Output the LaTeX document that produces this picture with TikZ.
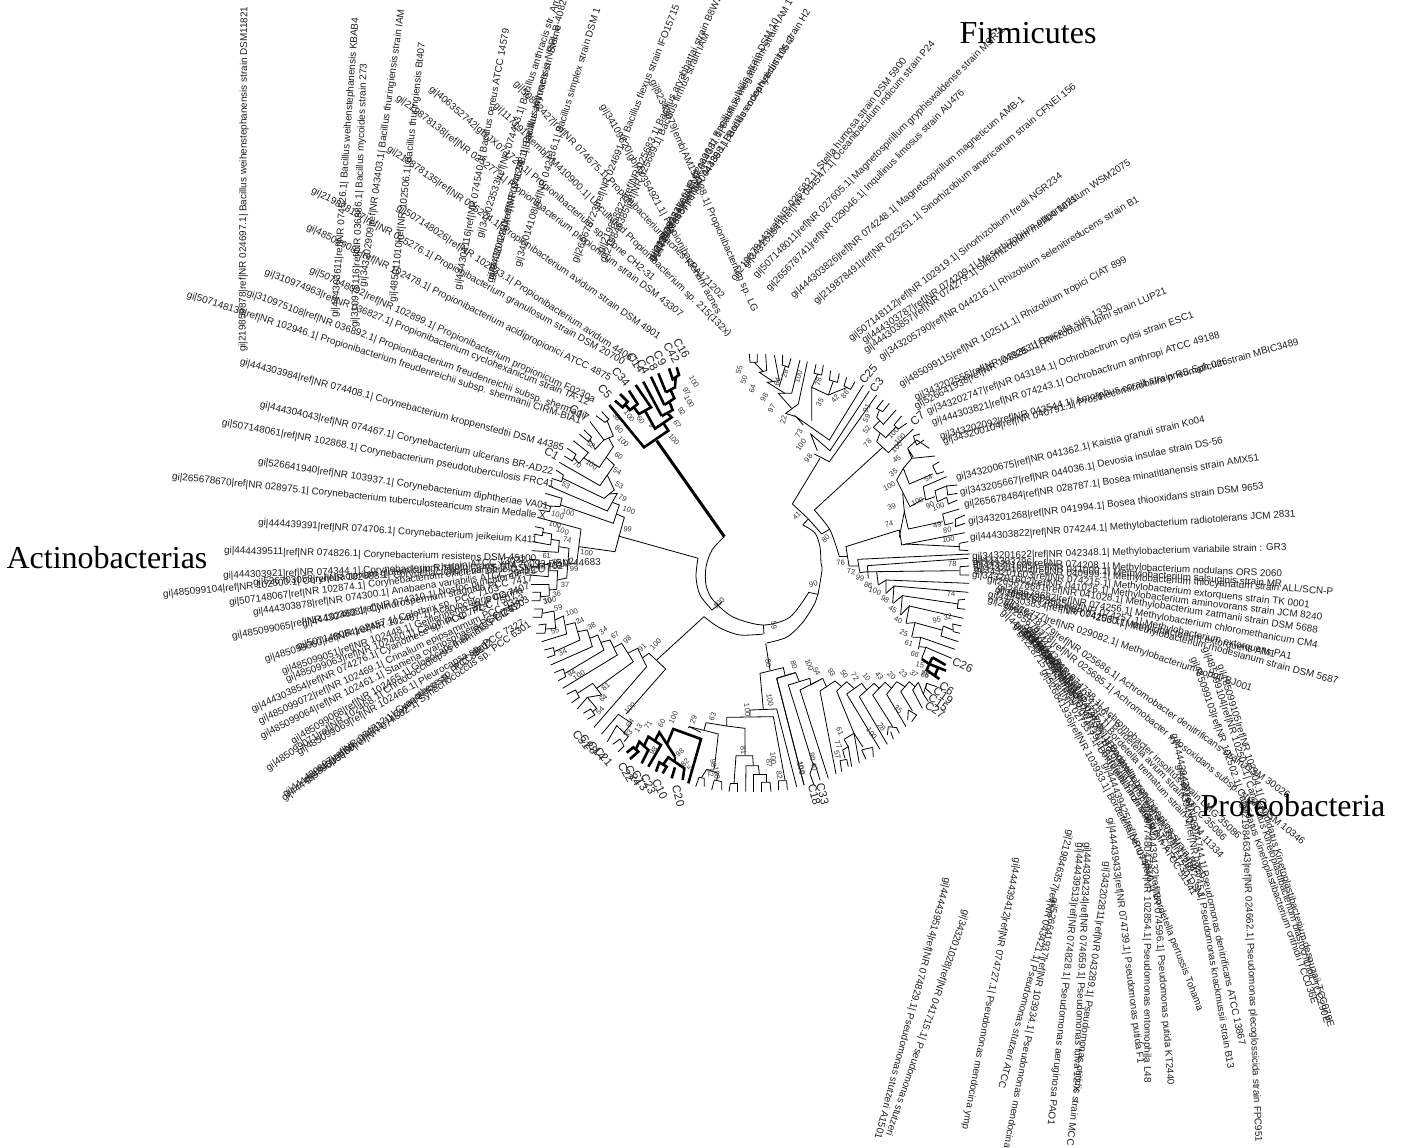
\documentclass[tikz,border=0pt]{standalone}
\usepackage{fontspec}
\setmainfont{Liberation Sans}
\newfontfamily\bigserif{Liberation Serif}
\newcounter{lb}
\newcommand{\lab}[4]{\stepcounter{lb}\node[leaf,rotate=#3] (lab\thelb) at (#1,#2) {#4};}
\newcommand{\bs}[4]{\stepcounter{lb}\node[bst,rotate=#3] (bs\thelb) at (#1,#2) {#4};}
\newcommand{\cl}[4]{\stepcounter{lb}\node[clade,rotate=#3] (cl\thelb) at (#1,#2) {#4};}
\tikzset{
 leaf/.style={anchor=west,inner sep=0pt,font=\fontsize{9.9}{9.9}\selectfont,text=black!88},
 bst/.style={inner sep=0pt,font=\fontsize{7.5}{7.5}\selectfont,text=black!80},
 clade/.style={inner sep=0pt,font=\fontsize{11.5}{11.5}\selectfont,text=black!85},
 group/.style={anchor=center,inner sep=0pt,font=\bigserif\fontsize{32}{32}\selectfont},
 br/.style={line width=0.8pt,line join=miter,black},
 thk/.style={line width=2.6pt,line join=miter,line cap=butt,black},
 zone/.style={xshift=480pt,yshift=-330pt,x=0.33333pt,y=-0.33333pt},
 ztwo/.style={xshift=500pt,yshift=-560pt,x=0.33333pt,y=-0.33333pt},
 zthree/.style={xshift=720pt,yshift=-330pt,x=0.33333pt,y=-0.33333pt},
 zfour/.style={xshift=780pt,yshift=-550pt,x=0.33333pt,y=-0.33333pt}
}
\begin{document}
\begin{tikzpicture}[x=1pt,y=-1pt]
\useasboundingbox (0,0) rectangle (1401,1148);
\fill[white] (0,0) rectangle (1401,1148);
% central rings
\draw[br] plot[smooth] coordinates {(724.3,536.7) (712,550) (706,567) (706,585) (713,600) (733,617) (763.3,625) (790,617) (809,592)};
\draw[br] plot[smooth] coordinates {(698,558) (696,577) (700,595) (712,610)};
\draw[br] (712,610) -- (722,602);
\draw[br] plot[smooth] coordinates {(704,616.7) (720,628) (740,635) (763.3,634)};
\draw[br] plot[smooth] coordinates {(766.7,643) (787,637) (803,622) (815,603) (818,594) (822,570) (821,563) (820,547) (815,533) (803,525)};
% ---- zone 1
\begin{scope}[zone]
\draw[thk,line width=3pt] (733,620) -- (530,332);
\draw[thk] (388,225) -- (492,352) -- (565,302) -- (550,279);
\draw[thk] (495,242) -- (525,296) -- (575,262) -- (561,249);
\draw[thk] (545,258) -- (578,240) -- (568,215);
\draw[thk] (545,258) -- (490,155);
\draw[thk] (553,225) -- (583,205) -- (572,180);
\draw[thk] (553,225) -- (513,140);
\draw[thk] (558,187) -- (585,172) -- (587,142);
\draw[thk] (558,187) -- (535,130);
\draw[thk] (567,115) -- (578,148) -- (597,135) -- (590,112);
\draw[thk] (405,212) -- (428,232) -- (443,215) -- (420,192);
\draw[thk] (436,224) -- (450,240) -- (473,222) -- (447,182);
\draw[thk] (461,231) -- (477,252) -- (513,232) -- (467,165);
\draw[br] (348,257) -- (375,277) -- (387,268) -- (365,245);
\draw[br] (330,275) -- (372,330) -- (400,318) -- (381,272);
\draw[br] (386,324) -- (400,350) -- (358,412) -- (311,384);
\draw[br] (298,312) -- (325,335) -- (335,322) -- (312,300);
\draw[br] (330,328) -- (345,358) -- (372,330);
\draw[br] (280,332) -- (325,368) -- (297,400) -- (282,383);
\draw[br] (262,355) -- (288,373) -- (277,393) -- (253,378);
\draw[br] (379,382) -- (403,405) -- (360,467) -- (238,397);
\draw[br] (382,436) -- (403,480) -- (372,505) -- (248,445);
\draw[br] (228,420) -- (250,435) -- (245,455) -- (215,445);
\draw[br] (388,492) -- (412,490) -- (382,543) -- (205,467);
\draw[br] (397,517) -- (418,525) -- (400,580) -- (243,525);
\draw[br] (196,490) -- (246,505) -- (240,530) -- (210,528);
\draw[br] (187,520) -- (212,530) -- (208,545) -- (175,540);
\draw[br] (409,552) -- (433,562) -- (405,665) -- (297,650);
\draw[br] (415,618) -- (655,685);
\draw[br] (172,562) -- (303,597) -- (290,700) -- (265,700);
\draw[br] (165,590) -- (190,595) -- (187,617) -- (160,612);
\draw[br] (188,607) -- (215,612) -- (212,645) -- (158,635);
\draw[br] (213,628) -- (238,632) -- (235,667) -- (155,662);
\draw[br] (237,650) -- (267,655) -- (260,745);
\draw[br] (150,688) -- (178,690) -- (175,712) -- (150,708);
\draw[br] (177,700) -- (205,704) -- (205,740) -- (148,735);
\draw[br] (205,722) -- (233,722) -- (230,778);
\bs{642}{155}{-60}{100}\bs{620}{185}{-60}{97}\bs{628}{215}{-60}{100}\bs{605}{245}{-60}{92}\bs{592}{283}{-55}{67}\bs{582}{328}{-50}{100}
\bs{448}{258}{-50}{100}\bs{482}{270}{-50}{60}\bs{515}{285}{-50}{9}\bs{410}{262}{-50}{36}\bs{417}{298}{-40}{80}\bs{430}{335}{-45}{100}\bs{416}{378}{-40}{60}
\bs{333}{345}{-40}{52}\bs{292}{403}{-35}{70}\bs{335}{405}{-35}{100}\bs{412}{425}{-30}{54}\bs{418}{465}{-30}{53}\bs{258}{465}{-30}{53}\bs{428}{503}{-25}{79}\bs{447}{540}{-20}{100}\bs{443}{598}{-10}{99}
\bs{265}{548}{-15}{100}\bs{233}{555}{-15}{100}\bs{225}{583}{-15}{100}\bs{248}{603}{-15}{100}\bs{262}{630}{-10}{74}\bs{320}{668}{-5}{100}\bs{200}{678}{0}{61}\bs{228}{697}{0}{75}\bs{282}{718}{0}{99}\bs{255}{765}{0}{37}
\cl{605}{55}{-60}{C16}\cl{575}{68}{-60}{C42}\cl{540}{85}{-60}{C9}\cl{515}{100}{-60}{C8}\cl{490}{110}{-60}{C4}\cl{468}{98}{-55}{C14}\cl{423}{140}{-50}{C34}\cl{375}{185}{-50}{C5}\cl{298}{250}{-35}{C17}\cl{215}{372}{-30}{C1}
\end{scope}
% ---- zone 2
\begin{scope}[ztwo]
\draw[br] (172,60) -- (200,54);
\draw[br] (147,72) -- (92,72);
\draw[br] (147,72) -- (148,108);
\draw[br] (147,90) -- (170,88);
\draw[br] (97,97) -- (122,97) -- (120,122) -- (95,122);
\draw[br] (121,110) -- (148,108);
\draw[br] (102,147) -- (128,147) -- (125,172) -- (98,172);
\draw[br] (127,160) -- (162,153) -- (167,205) -- (137,207);
\draw[br] (115,195) -- (138,192) -- (135,220) -- (108,220);
\draw[br] (165,180) -- (190,168) -- (200,222) -- (125,245);
\draw[br] (197,195) -- (225,188) -- (240,240);
\draw[br] (133,270) -- (160,263) -- (165,285) -- (142,293);
\draw[br] (163,275) -- (240,240);
\draw[br] (232,215) -- (262,210) -- (277,260) -- (152,315);
\draw[br] (270,235) -- (293,225) -- (312,270) -- (195,340);
\draw[br] (163,338) -- (190,327) -- (197,350) -- (175,362);
\draw[br] (303,247) -- (330,240) -- (352,285) -- (188,385);
\draw[br] (343,262) -- (365,250) -- (400,305) -- (290,385);
\draw[br] (200,403) -- (227,390) -- (238,412) -- (215,428);
\draw[br] (232,400) -- (278,370) -- (305,405) -- (262,412) -- (232,447);
\draw[br] (262,412) -- (290,445) -- (278,455);
\draw[br] (250,460) -- (272,447) -- (285,465) -- (262,478);
\draw[br] (383,280) -- (413,265) -- (440,320) -- (282,502);
\draw[br] (428,293) -- (447,280) -- (497,327) -- (378,462);
\draw[br] (470,300) -- (612,170);
\draw[br] (305,522) -- (355,463) -- (395,490) -- (370,520);
\draw[br] (322,545) -- (350,497) -- (385,530) -- (372,545);
\draw[br] (338,553) -- (360,537) -- (372,558) -- (355,575);
\draw[thk] (380,578) -- (400,562) -- (415,575) -- (390,597);
\draw[thk] (408,567) -- (418,545) -- (445,570) -- (425,610);
\draw[thk] (432,558) -- (445,530) -- (483,555) -- (445,620);
\draw[thk] (465,542) -- (478,517) -- (525,590);
\draw[thk] (502,550) -- (520,507) -- (603,537) -- (565,670);
\draw[thk] (468,635) -- (478,607) -- (500,620) -- (488,640);
\draw[thk] (490,613) -- (505,592) -- (553,625) -- (548,660);
\draw[thk] (525,622) -- (515,655);
\draw[thk] (525,605) -- (525,590);
\draw[br] (565,503) -- (568,500) -- (603,517);
\draw[br] (568,500) -- (655,522) -- (643,625);
\draw[br] (618,488) -- (612,510);
\draw[br] (618,488) -- (680,498);
\draw[br] (680,472) -- (680,498) -- (735,505) -- (735,585);
\draw[br] (680,472) -- (820,470) -- (855,660);
\draw[br] (750,470) -- (750,450) -- (830,447) -- (890,680);
\draw[br] (790,448) -- (780,340) -- (850,323) -- (855,345);
\draw[br] (810,330) -- (797,250);
\draw[br] (830,355) -- (885,338);
\draw[br] (830,355) -- (912,675);
\draw[br] (925,97) -- (955,103);
\draw[br] (790,195) -- (792,222);
% bottom small clusters
\draw[br] (597,652) -- (613,655) -- (613,680);
\draw[br] (597,652) -- (587,680);
\draw[br] (605,652) -- (620,628) -- (655,640);
\draw[br] (643,660) -- (665,665) -- (665,690);
\draw[br] (643,660) -- (635,690);
\draw[br] (655,640) -- (650,660);
\draw[br] (691,670) -- (713,670) -- (713,695);
\draw[br] (691,670) -- (687,695);
\draw[br] (702,670) -- (708,587) -- (758,587) -- (760,617);
\draw[br] (738,617) -- (775,617) -- (778,642);
\draw[br] (738,617) -- (737,695);
\draw[br] (760,642) -- (798,642) -- (798,667);
\draw[br] (760,642) -- (760,695);
\draw[br] (785,667) -- (810,667) -- (813,695);
\draw[br] (785,667) -- (785,695);
\draw[br] (835,662) -- (860,662) -- (862,690);
\draw[br] (835,662) -- (835,690);
\bs{170}{102}{10}{36}\bs{150}{122}{15}{100}\bs{142}{122}{15}{30}\bs{175}{145}{15}{59}\bs{215}{157}{20}{100}\bs{165}{212}{20}{55}\bs{240}{182}{25}{24}\bs{275}{200}{30}{38}\bs{188}{277}{25}{34}\bs{310}{212}{35}{34}\bs{345}{225}{35}{67}\bs{382}{240}{40}{98}\bs{215}{340}{30}{94}\bs{237}{347}{30}{100}\bs{427}{262}{45}{91}\bs{467}{252}{45}{100}\bs{317}{380}{40}{81}\bs{310}{415}{40}{64}\bs{300}{452}{45}{54}\bs{390}{445}{45}{100}\bs{390}{490}{50}{64}\bs{385}{522}{50}{33}\bs{415}{505}{55}{13}\bs{445}{495}{60}{71}\bs{485}{490}{60}{60}\bs{520}{473}{65}{100}\bs{580}{480}{70}{29}\bs{638}{470}{70}{63}\bs{540}{578}{40}{98}\bs{555}{608}{45}{82}\bs{460}{572}{50}{98}\bs{570}{625}{50}{5}
\bs{730}{570}{-85}{81}\bs{742}{450}{-85}{100}\bs{810}{420}{-80}{100}\bs{805}{310}{-85}{80}\bs{822}{195}{-85}{59}\bs{940}{72}{15}{90}\bs{657}{130}{45}{100}\bs{820}{595}{-85}{100}\bs{808}{610}{-85}{87}\bs{838}{645}{-80}{82}\bs{905}{625}{-75}{100}\bs{640}{610}{-85}{98}\bs{650}{640}{-80}{100}\bs{632}{640}{-80}{82}
\cl{245}{540}{-50}{C31}\cl{266}{553}{-50}{C28}\cl{290}{572}{-50}{C14}\cl{311}{590}{-50}{C21}\cl{378}{637}{-60}{C22}\cl{400}{648}{-60}{C24}\cl{420}{662}{-60}{C13}\cl{445}{672}{-65}{C23}\cl{480}{688}{-65}{C10}\cl{535}{708}{-75}{C20}
\end{scope}
% ---- zone 3
\begin{scope}[zthree]
\draw[br] plot[smooth] coordinates {(217,522) (263,565) (305,612)};
\draw[br] (305,612) -- (330,597);
\draw[br] plot[smooth] coordinates {(283,540) (330,600) (358,680)};
\draw[br] (264,568) -- (248,585);
\draw[br] (382,680) -- (358,680);
\draw[br] (378,650) -- (387,708) -- (416,708);
\draw[br] (217,522) -- (300,385);
\draw[br] (283,372) -- (328,395) -- (470,195);
\draw[br] (292,362) -- (272,312) -- (330,362) -- (448,183);
\draw[br] (250,285) -- (228,260) -- (328,330) -- (430,165);
\draw[br] (228,260) -- (197,250) -- (235,222) -- (262,95);
\draw[br] (215,235) -- (175,190) -- (215,190) -- (240,90);
\draw[br] (195,190) -- (142,157) -- (178,152) -- (163,75);
\draw[br] (160,155) -- (118,127) -- (140,122) -- (137,72);
\draw[br] (130,125) -- (103,97);
\draw[br] (88,72) -- (90,97) -- (112,97) -- (112,72);
\draw[br] (178,170) -- (196,108);
\draw[br] (188,75) -- (187,105) -- (205,112) -- (213,85);
\draw[br] (275,272) -- (275,172) -- (325,195);
\draw[br] (293,132) -- (275,172);
\draw[br] (288,103) -- (282,130) -- (305,135) -- (310,105);
\draw[br] (325,195) -- (340,153);
\draw[br] (332,122) -- (328,150) -- (352,157) -- (358,130);
\draw[br] (325,195) -- (382,172);
\draw[br] (380,142) -- (372,168) -- (392,178) -- (405,155);
% C7 clade
\draw[br] (283,540) -- (488,352);
\draw[br] (470,335) -- (505,368) -- (580,297);
\draw[br] (470,335) -- (480,310);
\draw[br] (460,292) -- (497,323);
\draw[br] (480,272) -- (460,292);
\draw[br] (470,262) -- (490,283) -- (528,240);
\draw[br] (490,210) -- (470,235) -- (488,245) -- (508,220);
\draw[br] (478,240) -- (470,262);
\draw[br] (545,258) -- (522,285) -- (535,297) -- (560,280);
\draw[br] (528,291) -- (497,323);
% Kaistia clade
\draw[br] (377,650) -- (538,600);
\draw[br] (538,600) -- (545,645) -- (735,608);
\draw[br] (538,622) -- (553,545) -- (565,597) -- (668,575);
\draw[br] (668,552) -- (675,585) -- (700,578);
\draw[br] (668,552) -- (718,537);
\draw[br] (705,568) -- (705,590);
\draw[br] (705,568) -- (735,555);
\draw[br] (705,590) -- (735,580);
\draw[br] (553,545) -- (548,490);
\draw[br] (530,450) -- (570,530) -- (613,505);
\draw[br] (610,470) -- (617,510) -- (645,500);
\draw[br] (610,470) -- (680,440);
\draw[br] (645,482) -- (652,515) -- (680,502);
\draw[br] (645,482) -- (680,468) -- (683,495);
\draw[br] (680,468) -- (712,465);
\draw[br] (683,495) -- (712,490);
\draw[br] (680,502) -- (685,522) -- (712,510);
\draw[br] (530,450) -- (550,415) -- (568,462) -- (638,432);
\draw[br] (638,407) -- (650,432) -- (672,425);
\draw[br] (638,407) -- (658,395);
\draw[br] (550,415) -- (575,385) -- (645,378);
\draw[br] (575,385) -- (563,355) -- (580,382);
\draw[br] (563,355) -- (590,330) -- (628,355);
\draw[br] (580,318) -- (590,345) -- (612,330);
\draw[br] (580,318) -- (600,312);
\draw[br] (718,640) -- (718,660) -- (745,662);
\draw[br] (718,640) -- (745,635);
\draw[br] (720,650) -- (555,642);
\bs{58}{120}{75}{55}\bs{72}{148}{75}{50}\bs{97}{175}{75}{64}\bs{133}{203}{60}{98}\bs{155}{235}{60}{97}\bs{190}{268}{75}{22}\bs{195}{130}{75}{28}\bs{172}{155}{75}{64}\bs{235}{140}{75}{100}\bs{295}{155}{75}{78}\bs{300}{218}{60}{35}\bs{345}{205}{50}{42}\bs{375}{193}{50}{86}\bs{237}{310}{60}{73}\bs{243}{345}{55}{100}\bs{265}{385}{50}{98}\bs{230}{558}{45}{41}\bs{317}{625}{45}{80}\bs{362}{698}{5}{76}\bs{393}{725}{-5}{72}\bs{420}{745}{-15}{99}\bs{445}{765}{-20}{86}
\bs{440}{235}{60}{91}\bs{440}{265}{60}{59}\bs{440}{300}{55}{52}\bs{443}{340}{50}{78}\bs{520}{310}{45}{100}\bs{540}{328}{45}{100}\bs{530}{352}{45}{100}\bs{530}{388}{40}{45}\bs{520}{428}{35}{35}\bs{508}{468}{30}{100}\bs{515}{530}{20}{39}\bs{507}{582}{15}{74}\bs{625}{445}{30}{54}\bs{592}{515}{25}{100}\bs{630}{525}{30}{90}\bs{655}{530}{20}{100}\bs{652}{585}{15}{49}\bs{682}{600}{10}{80}\bs{685}{628}{5}{100}\bs{697}{703}{0}{78}
\cl{445}{132}{50}{C25}\cl{470}{165}{50}{C3}\cl{592}{265}{40}{C7}
\end{scope}
% ---- zone 4
\begin{scope}[zfour]
\draw[br] (233,28) -- (240,70);
\draw[br] (233,28) -- (570,12);
\draw[br] (262,47) -- (265,85);
\draw[br] (240,68) -- (263,65);
\draw[br] (262,47) -- (565,25);
\draw[br] (263,65) -- (290,65) -- (295,105);
\draw[br] (290,65) -- (538,62);
\draw[br] (568,48) -- (540,50) -- (540,75) -- (568,75);
\draw[br] (295,105) -- (318,90) -- (318,130);
\draw[br] (318,90) -- (568,100);
\draw[br] (318,130) -- (342,108) -- (338,160);
\draw[br] (342,108) -- (565,127);
\draw[br] (340,160) -- (367,137) -- (362,195);
\draw[br] (367,137) -- (535,162);
\draw[br] (555,148) -- (535,150) -- (532,175) -- (555,178);
\draw[br] (362,195) -- (388,168) -- (378,220);
\draw[br] (388,168) -- (550,205);
\draw[br] (378,220) -- (405,218) -- (395,262);
\draw[br] (405,218) -- (485,240);
\draw[br] (490,228) -- (483,258) -- (535,275);
\draw[br] (490,228) -- (518,240);
\draw[br] (545,228) -- (518,222) -- (520,245) -- (540,250);
\draw[br] (398,262) -- (422,262) -- (415,298);
\draw[br] (422,262) -- (525,298);
\draw[br] (418,290) -- (438,292) -- (425,325);
\draw[br] (438,292) -- (515,325);
\draw[thk] (425,327) -- (445,340);
\draw[thk] (457,322) -- (440,360) -- (478,387);
\draw[thk] (457,322) -- (497,345);
\draw[thk] (448,342) -- (498,362);
\draw[thk] (465,375) -- (475,352);
% fan
\draw[br] (-10,385) -- (72,705);
\draw[br] (25,405) -- (98,640);
\draw[br] (-10,385) -- (47,368) -- (58,395);
\draw[br] (25,405) -- (90,385);
\draw[br] (60,420) -- (145,685);
\draw[br] (60,420) -- (128,385) -- (92,405);
\draw[br] (92,405) -- (90,385);
\draw[br] (120,423) -- (168,672);
\draw[br] (120,423) -- (165,393);
\draw[br] (140,412) -- (128,385);
\draw[br] (170,423) -- (200,395);
\draw[br] (185,410) -- (165,393);
\draw[br] (170,423) -- (222,550);
\draw[br] (200,432) -- (245,400);
\draw[br] (222,415) -- (200,395);
\draw[br] (200,432) -- (300,598);
\draw[br] (238,440) -- (282,400);
\draw[br] (260,420) -- (245,400);
\draw[br] (238,440) -- (322,583);
\draw[br] (278,435) -- (315,397);
\draw[br] (298,415) -- (282,400);
\draw[br] (278,435) -- (338,530);
\draw[br] (320,433) -- (350,395);
\draw[br] (335,415) -- (315,397);
\draw[br] (320,433) -- (378,530);
\draw[br] (362,425) -- (388,395);
\draw[br] (375,410) -- (350,395);
\draw[br] (362,425) -- (397,482);
\draw[br] (398,420) -- (415,397);
\draw[br] (405,410) -- (388,395);
\draw[br] (398,420) -- (427,475);
\draw[br] (415,397) -- (430,432) -- (445,455);
\draw[br] (430,432) -- (440,400) -- (470,410);
\draw[br] (440,400) -- (437,415) -- (455,432);
% cherry C18/C33
\draw[br] (90,672) -- (100,640) -- (108,650);
\draw[br] (90,672) -- (102,705);
\draw[br] (108,650) -- (120,690);
% cherry 35
\draw[br] (385,480) -- (410,495) -- (395,515);
\draw[br] (385,480) -- (383,510);
% cherry 28
\draw[br] (325,530) -- (350,533) -- (358,550);
\draw[br] (325,530) -- (322,555);
\draw[br] (332,545) -- (340,568);
% cluster 61/77/57
\draw[br] (192,568) -- (222,550) -- (248,590);
\draw[br] (222,550) -- (238,640);
\draw[br] (245,600) -- (278,592);
\draw[br] (245,600) -- (258,628);
\draw[br] (278,592) -- (280,622);
\draw[br] (192,568) -- (205,590) -- (188,600) -- (195,625);
\draw[br] (205,590) -- (215,650);
\draw[br] (180,632) -- (200,628);
\draw[br] (180,632) -- (185,665);
\draw[br] (200,628) -- (205,650);
\bs{285}{123}{-20}{100}\bs{315}{147}{-30}{98}\bs{338}{178}{-30}{45}\bs{355}{210}{-25}{40}\bs{372}{250}{-25}{25}\bs{387}{280}{-20}{61}\bs{405}{312}{-20}{66}\bs{420}{345}{-10}{15}\bs{513}{133}{0}{74}\bs{470}{210}{10}{95}\bs{503}{202}{10}{32}
\bs{42}{345}{-75}{80}\bs{88}{345}{-70}{100}\bs{110}{365}{-60}{54}\bs{155}{368}{-60}{93}\bs{193}{372}{-55}{50}\bs{225}{380}{-55}{72}\bs{260}{380}{-50}{10}\bs{298}{378}{-50}{43}\bs{335}{378}{-45}{20}\bs{370}{372}{-45}{23}\bs{402}{372}{-40}{37}\bs{435}{372}{-15}{78}\bs{435}{374}{-15}{85}\bs{355}{478}{-40}{35}\bs{305}{530}{-50}{28}\bs{275}{550}{-55}{100}\bs{180}{545}{-65}{61}\bs{175}{583}{-70}{77}\bs{172}{615}{-75}{57}\bs{97}{620}{-75}{80}\bs{103}{650}{-75}{40}\bs{62}{655}{-75}{100}
\cl{548}{345}{-25}{C26}\cl{500}{415}{-35}{C6}\cl{490}{437}{-35}{C19}\cl{475}{458}{-35}{C15}\cl{465}{480}{-35}{C27}\cl{103}{733}{-75}{C18}\cl{128}{732}{-75}{C33}
\end{scope}
% ---- leaf labels
\lab{243}{352}{89.7}{gi|219859878|ref|NR 024697.1| Bacillus weihenstephanensis strain DSM11821}
\lab{335}{318}{86}{gi|444303611|ref|NR 074526.1| Bacillus weihenstephanensis KBAB4}
\lab{355}{328}{88}{gi|310975116|ref|NR 036886.1| Bacillus mycoides strain 273}
\lab{363}{287}{82}{gi|343202909|ref|NR 043403.1| Bacillus thuringiensis strain IAM}
\lab{393}{302}{83.5}{gi|485011010|ref|NR 102506.1| Bacillus thuringiensis Bt407}
\lab{397}{97}{-37.5}{gi|219878138|ref|NR 025277.1| Propionibacterium propionicum strain DSM 43307}
\lab{388}{148}{-35}{gi|219878135|ref|NR 025274.1| Propionibacterium avidum strain DSM 4901}
\lab{397}{207}{-33}{gi|507148026|ref|NR 102833.1| Propionibacterium avidum 44067}
\lab{312}{190}{-29}{gi|219878137|ref|NR 025276.1| Propionibacterium granulosum strain DSM 20700}
\lab{307}{227}{-26.6}{gi|485099081|ref|NR 102478.1| Propionibacterium acidipropionici ATCC 4875}
\lab{310}{270}{-24.6}{gi|507148092|ref|NR 102899.1| Propionibacterium propionicum F0230a}
\lab{265}{272}{-22}{gi|310974963|ref|NR 036827.1| Propionibacterium cyclohexanicum strain TA-12}
\lab{247}{293}{-20}{gi|310975108|ref|NR 036892.1| Propionibacterium freudenreichii subsp. shermanii}
\lab{187}{295}{-17.8}{gi|507148139|ref|NR 102946.1| Propionibacterium freudenreichii subsp. shermanii CIRM-BIA1}
\lab{240}{362}{-15}{gi|444303984|ref|NR 074408.1| Corynebacterium kroppenstedtii DSM 44385}
\lab{260}{405}{-12.9}{gi|444304043|ref|NR 074467.1| Corynebacterium ulcerans BR-AD22}
\lab{222}{423}{-10.6}{gi|507148061|ref|NR 102868.1| Corynebacterium pseudotuberculosis FRC41}
\lab{258}{462}{-8.8}{gi|526641940|ref|NR 103937.1| Corynebacterium diphtheriae VA01}
\lab{172}{477}{-6}{gi|265678670|ref|NR 028975.1| Corynebacterium tuberculostearicum strain Medalle X}
\lab{258}{523}{-3.6}{gi|444439391|ref|NR 074706.1| Corynebacterium jeikeium K411}
\lab{224}{551}{-1.5}{gi|444439511|ref|NR 074826.1| Corynebacterium resistens DSM 45100}
\lab{223}{576}{2}{gi|444303921|ref|NR 074344.1| Corynebacterium halotolerans YIM 70093 DSM 44683}
\lab{163}{595}{5.5}{gi|485099104|ref|NR 102500.1| Corynebacterium glutamicum R strain ATCC 13032}
\lab{253}{583}{3}{gi|526703058|ref|NR 102888.1| Corynebacterium variabile DSM 44702}
\lab{229}{603}{7.3}{gi|507148067|ref|NR 102874.1| Corynebacterium efficiens YS-314}
\lab{253}{613}{8.5}{gi|444303878|ref|NR 074300.1| Anabaena variabilis ATCC 29413}
\lab{232}{637}{11}{gi|485099065|ref|NR 102462.1| Cylindrospermum stagnale PCC 7417}
\lab{302}{625}{13}{gi|444303888|ref|NR 074310.1| Nostoc punctiforme PCC 73102}
\lab{297}{647}{14}{gi|507148084|ref|NR 102487.1| Acaryochloris marina}
\lab{265}{660}{17}{gi|485099060|ref|NR 102457.1| Calothrix sp. PCC 7103}
\lab{282}{672}{19}{gi|485099051|ref|NR 102448.1| Geitlerinema sp. PCC 7407}
\lab{286}{680}{20}{gi|485099063|ref|NR 102460.1| Calothrix sp. PCC 7507}
\lab{252}{710}{24}{gi|444303854|ref|NR 074276.1| Cyanothece sp. PCC 7424}
\lab{259}{722}{25}{gi|485099072|ref|NR 102469.1| Crinalium epipsammum PCC 9333}
\lab{261}{737}{27}{gi|485099064|ref|NR 102461.1| Stanieria cyanosphaera PCC 7437}
\lab{298}{753}{30}{gi|485099069|ref|NR 102466.1| Pleurocapsa sp. PCC 7327}
\lab{292}{742}{31}{gi|485099068|ref|NR 102465.1| Gloeocapsa sp. PCC 7428}
\lab{267}{769}{33}{gi|485099071|ref|NR 102468.1| Chroococcidiopsis thermalis PCC 7203}
\lab{305}{782}{35}{gi|444303960|ref|NR 074382.1| Synechococcus sp. PCC 6301}
\lab{283}{800}{37}{gi|444439396|ref|NR 074711.1| Cyanothece sp. PCC 8801}
\lab{284}{796}{36.5}{gi|444439397|ref|NR 074712.1| Cyanothece sp. PCC 8802}
% top
\lab{430}{88}{-40.6}{gi|406352742|gb|JX071726.1| Propionibacterium sp. clone CH2-31}
\lab{495}{105}{-44.5}{gi|1171917|emb|AM410900.1| Uncultured Propionibacterium sp. 215(132x)}
\lab{515}{83}{-46}{gi|50842427|ref|NR 074675.1| Propionibacterium acnes KPA171202}
\lab{602}{105}{-60.7}{gi|34109520|gb|AY354921.1| Propionibacterium acnes}
\lab{652}{80}{-66}{gi|82342079|emb|AM157438.1| Propionibacterium sp. LG}
\lab{458}{290}{79.4}{gi|444304116|ref|NR 074540.1| Bacillus cereus ATCC 14579}
\lab{480}{238}{72}{gi|342023533|ref|NR 074453.1| Bacillus anthracis str. Ames}
\lab{490}{283}{75}{gi|444304233|ref|NR 074651.1| Bacillus anthracis str. Sterne}
\lab{491}{280}{75.3}{gi|343201410|ref|NR 041248.1| Bacillus toyonensis NRRL B-4082}
\lab{518}{267}{72.8}{gi|342014108|ref|NR 042136.1| Bacillus simplex strain DSM 1}
\lab{575}{263}{68.3}{gi|265678723|ref|NR 024691.1| Bacillus flexus strain IFO15715}
\lab{600}{253}{65}{gi|219858822|ref|NR 025683.1| Bacillus aryabhattai strain B8W22}
\lab{603}{263}{65.5}{gi|219846385|ref|NR 025689.1| Bacillus firmus strain IAM}
\lab{652}{262}{62.7}{gi|219878373|ref|NR 024696.1| Bacillus subtilis strain DSM 10}
\lab{657}{252}{62}{gi|219878456|ref|NR 044387.1| Bacillus megaterium strain IAM 13418}
\lab{655}{256}{58}{gi|219878457|ref|NR 044388.1| Bacillus oceanisediminis strain H2}
\lab{651}{260}{57.5}{gi|219878458|ref|NR 044389.1| Bacillus endophyticus 105-2}
\lab{733}{280}{52}{gi|219878443|ref|NR 025582.1| Stella humosa strain DSM 5900}
\lab{745}{267}{50}{gi|343201941|ref|NR 044547.1| Oceanibaculum indicum strain P24}
\lab{755}{277}{45}{gi|507148011|ref|NR 027605.1| Magnetospirillum gryphiswaldense strain MSR-1}
\lab{768}{290}{45.5}{gi|265678741|ref|NR 029046.1| Inquilinus limosus strain AU476}
\lab{792}{297}{40.6}{gi|444303826|ref|NR 074248.1| Magnetospirillum magneticum AMB-1}
\lab{815}{303}{39.9}{gi|219878491|ref|NR 025251.1| Sinorhizobium americanum strain CFNEI 156}
\lab{850}{340}{37.9}{gi|507148112|ref|NR 102919.1| Sinorhizobium fredii NGR234}
\lab{863}{342}{34}{gi|444303787|ref|NR 074209.1| Mesorhizobium opportunistum WSM2075}
\lab{865}{352}{36}{gi|444303857|ref|NR 074279.1| Sinorhizobium meliloti 1021}
\lab{880}{358}{31.6}{gi|343205790|ref|NR 044216.1| Rhizobium selenitireducens strain B1}
\lab{900}{385}{29}{gi|485099115|ref|NR 102511.1| Rhizobium tropici CIAT 899}
\lab{915}{398}{23}{gi|343202555|ref|NR 043283.1| Rhizobium lupini strain LUP21}
\lab{915}{407}{27}{gi|526641938|ref|NR 103935.1| Brucella suis 1330}
\lab{927}{412}{20}{gi|343202747|ref|NR 043184.1| Ochrobactrum cytisi strain ESC1}
\lab{932}{423}{17}{gi|444303821|ref|NR 074243.1| Ochrobactrum anthropi ATCC 49188}
\lab{940}{437}{14.6}{gi|343202092|ref|NR 043544.1| Amorphus coralli strain RS.Sph.026}
\lab{943}{442}{15.7}{gi|343200104|ref|NR 040791.1| Prosthecomicrobium pneumaticum strain MBIC3489}
\lab{956}{478}{13.2}{gi|343200675|ref|NR 041362.1| Kaistia granuli strain Ko04}
\lab{960}{493}{11.3}{gi|343205667|ref|NR 044036.1| Devosia insulae strain DS-56}
\lab{964}{505}{9}{gi|265678484|ref|NR 028787.1| Bosea minatitlanensis strain AMX51}
\lab{968}{522}{6.8}{gi|343201268|ref|NR 041994.1| Bosea thiooxidans strain DSM 9653}
\lab{970}{538}{4.2}{gi|444303822|ref|NR 074244.1| Methylobacterium radiotolerans JCM 2831}
\lab{972}{557}{1.7}{gi|343201622|ref|NR 042348.1| Methylobacterium variabile strain : GR3}
\lab{972}{561}{-2.5}{gi|444303786|ref|NR 074208.1| Methylobacterium nodulans ORS 2060}
\lab{973}{563}{-4}{gi|343201605|ref|NR 041000.1| Methylobacterium salsuginis strain MR}
\lab{973}{567}{-4}{gi|343201604|ref|NR 040999.1| Methylobacterium thiocyanatum strain ALL/SCN-P}
\lab{974}{570}{-6}{gi|343201603|ref|NR 074215.1| Methylobacterium extorquens strain TK 0001}
\lab{972}{575}{-7}{gi|343201602|ref|NR 041026.1| Methylobacterium aminovorans strain JCM 8240}
\lab{987}{580}{-8.7}{gi|265678681|ref|NR 041028.1| Methylobacterium zatmanii strain DSM 5688}
\lab{997}{588}{-10.2}{gi|265678682|ref|NR 074256.1| Methylobacterium chloromethanicum CM4}
\lab{988}{595}{-11.8}{gi|444303834|ref|NR 074256.1| Methylobacterium extorquens AM1}
\lab{995}{590}{-15}{gi|265678776|ref|NR 041030.1| Methylobacterium rhodesianum strain DSM 5687}
\lab{1008}{592}{-13}{gi|444303835|ref|NR 074257.1| Methylobacterium extorquens PA1}
\lab{988}{600}{-18.7}{gi|265678777|ref|NR 029082.1| Methylobacterium populi BJ001}
% sheaf
\lab{1005}{605}{-38.6}{gi|265678778|ref|NR 025685.1| Achromobacter xylosoxidans subsp. strain DSM 10346}
\lab{1005}{600}{-34.7}{gi|265678779|ref|NR 025686.1| Achromobacter denitrificans strain DSM 30026}
\lab{1002}{612}{-43.6}{gi|444303836|ref|NR 074738.1| Achromobacter insolitus strain LMG 35086}
\lab{1015}{625}{-48.4}{gi|444439420|ref|NR 074735.1| Bordetella trematum strain DSM 11334}
\lab{1016}{624}{-46}{gi|444303837|ref|NR 074739.1| Bordetella avium strain ATCC 35086}
\lab{1020}{632}{-55.6}{gi|228715722|ref|NR 027537.1| Bordetella hinzii strain ATCC 51730 DSM}
\lab{1035}{628}{-57}{gi|444439421|ref|NR 074736.1| Bordetella petrii strain DSM 12804}
\lab{1025}{625}{-56}{gi|444439422|ref|NR 074737.1| Bordetella parapertussis strain 12822}
\lab{1028}{628}{-55}{gi|444439423|ref|NR 074738.1| Bordetella bronchiseptica strain RB50}
\lab{1030}{632}{-58}{gi|444439424|ref|NR 074739.1| Bordetella holmesii strain ATCC 51541}
\lab{1043}{670}{-62}{gi|526641936|ref|NR 103933.1| Bordetella pertussis}
\lab{1105}{763}{-69}{gi|444439425|ref|NR 074740.1| Bordetella pertussis Tohama}
\lab{1193}{657}{-70.7}{gi|485099103|ref|NR 102502.1| Candidatus Kinetoplastibacterium crithidii TCC036E}
\lab{1205}{648}{-72}{gi|485099104|ref|NR 102503.1| Candidatus Kinetoplastibacterium blastocrithidii TCC290E}
\lab{1220}{665}{-73}{gi|485099105|ref|NR 102504.1| Candidatus Kinetoplastibacterium desouzaii TCC079E}
\lab{1174}{734}{-77.7}{gi|444439430|ref|NR 074744.1| Pseudomonas denitrificans ATCC 13867}
\lab{1179}{765}{-80.4}{gi|444439431|ref|NR 074745.1| Pseudomonas knackmussii strain B13}
\lab{1244}{803}{-87.6}{gi|219846343|ref|NR 024662.1| Pseudomonas plecoglossicida strain FPC951}
\lab{1150}{815}{-85.7}{gi|444439432|ref|NR 074596.1| Pseudomonas putida KT2440}
\lab{1147}{803}{-90}{gi|507748047|ref|NR 102854.1| Pseudomonas entomophila L48}
\lab{1110}{818}{-83}{gi|444439433|ref|NR 074739.1| Pseudomonas putida F1}
\lab{1107}{862}{-97.6}{gi|343202811|ref|NR 043289.1| Pseudomonas otitidis strain MCC}
\lab{1087}{842}{-92.6}{gi|444304234|ref|NR 074659.1| Pseudomonas fulva 12-X}
\lab{1080}{843}{-96}{gi|444439513|ref|NR 074828.1| Pseudomonas aeruginosa PAO1}
\lab{1070}{830}{-105}{gi|219846357|ref|NR 043421.1| Pseudomonas stutzeri ATCC}
\lab{1055}{898}{-101}{gi|526641937|ref|NR 103934.1| Pseudomonas mendocina s}
\lab{1017}{858}{-100.9}{gi|444439412|ref|NR 074727.1| Pseudomonas mendocina ymp}
\lab{966}{910}{-109}{gi|343201028|ref|NR 041715.1| Pseudomonas stutzeri}
\lab{947}{878}{-105}{gi|444439514|ref|NR 074829.1| Pseudomonas stutzeri A1501}
% groups
\node[group] (firm) at (1028,33) {Firmicutes};
\node[group] (acti) at (107,558) {Actinobacterias};
\node[group] (prot) at (1293,806) {Proteobacteria};
\end{tikzpicture}
\end{document}
